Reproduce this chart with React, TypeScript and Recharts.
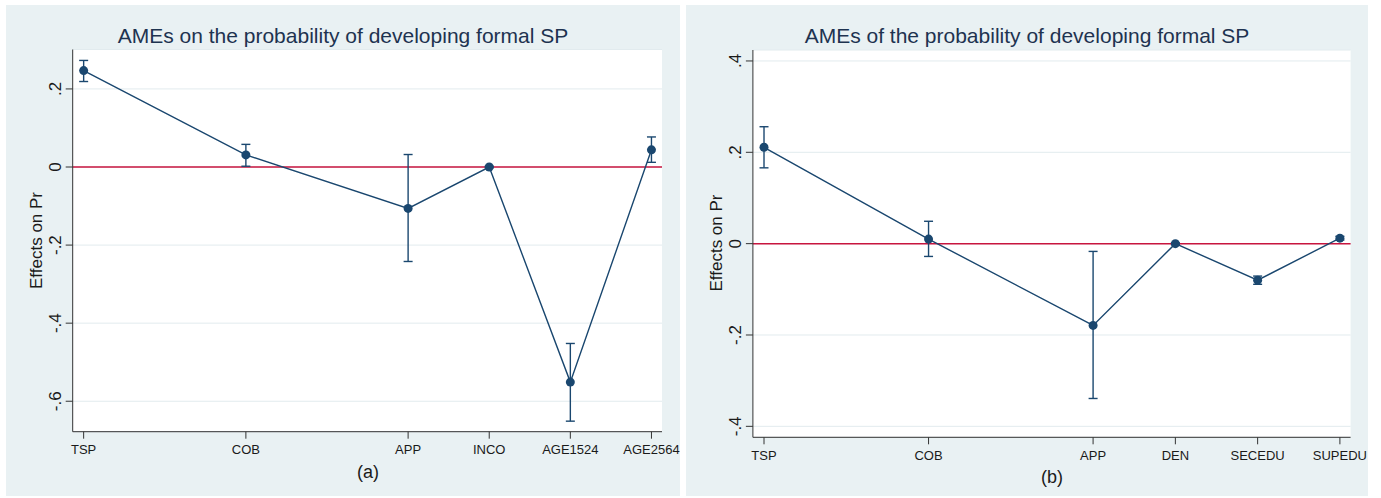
import React from "react"
import {
  ComposedChart, Line, XAxis, YAxis, CartesianGrid, ReferenceLine, ErrorBar,
} from "recharts"

const NAVY = "#1a476f"
const RED = "#c8153f"
const PANEL_BG = "#e9f1f3"
const FONT = '"Liberation Sans", Arial, sans-serif'

// x positions used on the numeric axis (gaps as in the original plot)
const positions = [1, 3, 5, 6, 7, 8]

// panel (a)
const catsA = ["TSP", "COB", "APP", "INCO", "AGE1524", "AGE2564"]
const ameA = [0.247, 0.031, -0.106, 0.0, -0.551, 0.044]
const lowA = [0.219, 0.002, -0.242, -0.002, -0.651, 0.012]
const highA = [0.273, 0.058, 0.032, 0.002, -0.452, 0.077]
const yTicksA = [-0.6, -0.4, -0.2, 0, 0.2]

// panel (b)
const catsB = ["TSP", "COB", "APP", "DEN", "SECEDU", "SUPEDU"]
const ameB = [0.211, 0.01, -0.179, 0.0, -0.08, 0.012]
const lowB = [0.166, -0.028, -0.339, -0.002, -0.089, 0.008]
const highB = [0.256, 0.049, -0.017, 0.002, -0.071, 0.016]
const yTicksB = [-0.4, -0.2, 0, 0.2, 0.4]

function fmtY(v: number) {
  if (v === 0) return "0"
  const s = Math.round(Math.abs(v) * 10)
  return (v < 0 ? "-." : ".") + s
}

function buildRows(ame: number[], low: number[], high: number[]) {
  return positions.map((p, i) => ({
    pos: p,
    ame: ame[i],
    err: [ame[i] - low[i], high[i] - ame[i]],
  }))
}

function YTick(props: any) {
  const { x, y, payload } = props
  return (
    <text
      x={x} y={y} textAnchor="middle" fontSize={17} fill="#1a1a1a" fontFamily={FONT}
      transform={`rotate(-90, ${x}, ${y})`}
    >
      {fmtY(payload.value)}
    </text>
  )
}

interface PanelProps {
  left: number
  top: number
  width: number
  height: number
  plot: { left: number; top: number; right: number; bottom: number }
  cats: string[]
  rows: any[]
  yDomain: [number, number]
  yTicks: number[]
}

function Panel({ left, top, width, height, plot, cats, rows, yDomain, yTicks }: PanelProps) {
  const yAxisW = 40
  const xAxisH = 40
  return (
    <div style={{ position: "absolute", left, top, width, height, background: PANEL_BG }}>
      <ComposedChart
        width={width} height={height} data={rows}
        margin={{
          top: plot.top, right: plot.right,
          left: plot.left - yAxisW, bottom: plot.bottom - xAxisH,
        }}
      >
        <CartesianGrid vertical={false} stroke="#e2ebee" fill="#ffffff" />
        <XAxis
          dataKey="pos" type="number" domain={[0.865, 8.13]} ticks={positions}
          allowDataOverflow interval={0} height={xAxisH}
          tickFormatter={(v) => cats[positions.indexOf(v)] ?? ""}
          tick={{ fontSize: 13, fill: "#1a1a1a", fontFamily: FONT }}
          tickSize={7} tickMargin={6}
          axisLine={{ stroke: "#333" }} tickLine={{ stroke: "#333" }}
        />
        <YAxis
          type="number" domain={yDomain} ticks={yTicks} allowDataOverflow width={yAxisW}
          tick={<YTick />} tickSize={7} tickMargin={5}
          axisLine={{ stroke: "#333" }} tickLine={{ stroke: "#333" }}
        />
        <ReferenceLine y={0} stroke={RED} strokeWidth={1.5} />
        <Line
          type="linear" dataKey="ame" stroke={NAVY} strokeWidth={1.4}
          dot={{ r: 4.5, fill: NAVY, stroke: NAVY, strokeWidth: 0 }}
          activeDot={false} isAnimationActive={false}
        >
          <ErrorBar dataKey="err" direction="y" width={4.5} stroke={NAVY} strokeWidth={1.4} />
        </Line>
      </ComposedChart>
    </div>
  )
}

export default function App() {
  const rowsA = buildRows(ameA, lowA, highA)
  const rowsB = buildRows(ameB, lowB, highB)
  return (
    <div style={{ position: "absolute", left: 0, top: 0, width: 1381, height: 498, background: "#fff" }}>
      <Panel
        left={6} top={5} width={674} height={491}
        plot={{ left: 66.7, top: 44.5, right: 18, bottom: 64.3 }}
        cats={catsA} rows={rowsA} yDomain={[-0.678, 0.301]} yTicks={yTicksA}
      />
      <Panel
        left={686} top={5} width={682} height={491}
        plot={{ left: 66.9, top: 45, right: 17.4, bottom: 58.7 }}
        cats={catsB} rows={rowsB} yDomain={[-0.424, 0.424]} yTicks={yTicksB}
      />
      <svg
        width={1381} height={498}
        style={{ position: "absolute", left: 0, top: 0, pointerEvents: "none" }}
        fontFamily={FONT}
      >
        <text x={343} y={42.5} textAnchor="middle" fontSize={21} fill="#1e3350">
          AMEs on the probability of developing formal SP
        </text>
        <text x={1027} y={42.5} textAnchor="middle" fontSize={21} fill="#1e3350">
          AMEs of the probability of developing formal SP
        </text>
        <text x={41.7} y={240.5} textAnchor="middle" fontSize={17} fill="#1a1a1a"
          transform="rotate(-90, 41.7, 240.5)">Effects on Pr</text>
        <text x={721.7} y={243} textAnchor="middle" fontSize={17} fill="#1a1a1a"
          transform="rotate(-90, 721.7, 243)">Effects on Pr</text>
        <text x={368} y={478} textAnchor="middle" fontSize={18} fill="#1a1a1a">(a)</text>
        <text x={1052} y={483} textAnchor="middle" fontSize={18} fill="#1a1a1a">(b)</text>
      </svg>
    </div>
  )
}
